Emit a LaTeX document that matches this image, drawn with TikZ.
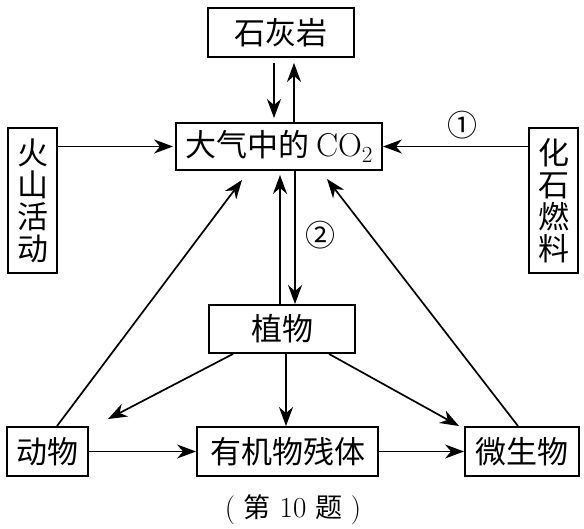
\documentclass[tikz,border=0pt]{standalone}
\usepackage{fontspec}
\newfontfamily\cjk{Noto Sans CJK SC}
\usetikzlibrary{arrows.meta,calc}
\begin{document}
\begin{tikzpicture}[x=1pt,y=-1pt,
  box/.style={draw,line width=1.9pt,inner sep=0pt,font=\cjk\fontsize{31}{32}\selectfont,align=center},
  arr/.style={line width=1.7pt,-{Stealth[length=19pt,width=14pt,inset=6pt]}},
  lbl/.style={inner sep=0pt,font=\cjk\fontsize{30}{30}\selectfont}]
\useasboundingbox[fill=white] (0,0) rectangle (584,529);
% boxes
\node[box,minimum width=146pt,minimum height=49pt] (lime) at (281,32.5) {石灰岩};
\node[box,minimum width=206pt,minimum height=47pt] (co2) at (279,146.5) {大气中的 {\rmfamily\fontsize{33}{33}\selectfont CO\textsubscript{2}}};
\node[box,minimum width=49pt,minimum height=145pt] (volc) at (32.5,200.5) {火\\山\\活\\动};
\node[box,minimum width=49pt,minimum height=145pt] (foss) at (553.5,200.5) {化\\石\\燃\\料};
\node[box,minimum width=146pt,minimum height=48pt] (plant) at (282,329) {植物};
\node[box,minimum width=81pt,minimum height=49pt] (anim) at (47.5,451.5) {动物};
\node[box,minimum width=181pt,minimum height=49pt] (resid) at (287.5,451.5) {有机物残体};
\node[box,minimum width=114pt,minimum height=49pt] (micro) at (522,451.5) {微生物};
% labels
\node[lbl] (n1) at (462,125) {①};
\node[lbl] (n2) at (320,235) {②};
\node[inner sep=0pt,font=\fontsize{29}{29}\selectfont] (cap) at (293,510) {( {\cjk\fontsize{27}{27}\selectfont 第} 10 {\cjk\fontsize{27}{27}\selectfont 题} )};
% connectors
\draw[arr,shorten >=4pt] ([xshift=-7pt,yshift=-5pt]lime.south) -- ([xshift=-5pt]co2.north);
\draw[arr,shorten >=5pt] ([xshift=15pt]co2.north) -- ([xshift=13pt]lime.south);
\draw[arr] ([xshift=16pt]co2.south) -- ([xshift=13pt]plant.north);
\draw[arr,shorten >=4pt] ([xshift=-2pt]plant.north) -- ([xshift=1pt]co2.south);
\draw[arr,shorten >=2pt] (volc.east |- co2.west) -- (co2.west);
\draw[arr] (foss.west |- co2.east) -- (co2.east);
\draw[arr] ([xshift=9.5pt]anim.north) -- ([xshift=-37pt,yshift=-9pt]co2.south);
\draw[arr] ([xshift=-4pt]micro.north) -- ([xshift=48pt,yshift=-8pt]co2.south);
\draw[arr] ([xshift=-49pt]plant.south) -- ([xshift=19pt,yshift=7pt]anim.north east);
\draw[arr] ([xshift=4pt]plant.south) -- ([xshift=-1.5pt]resid.north);
\draw[arr] ([xshift=47pt]plant.south) -- ([xshift=-5pt]micro.north west);
\draw[arr] (anim.east) -- (resid.west);
\draw[arr] (resid.east) -- (micro.west);
\end{tikzpicture}
\end{document}
